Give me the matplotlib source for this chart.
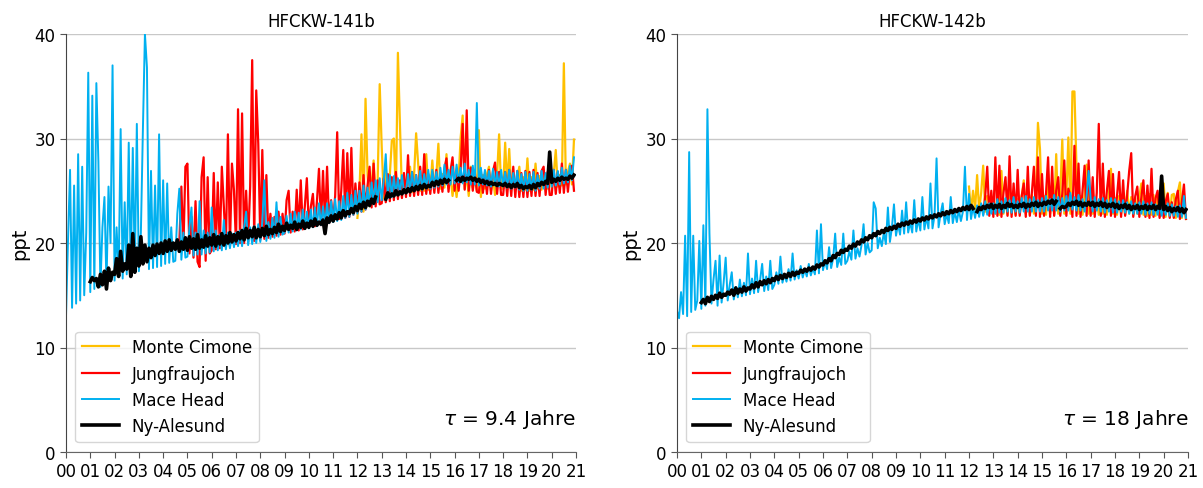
import numpy as np
import matplotlib.pyplot as plt

# Jahres-Ticks 2000..2021
tick_years = list(range(2000, 2022))
tick_labels = [f"{y % 100:02d}" for y in tick_years]

stations = ["Monte Cimone", "Jungfraujoch", "Mace Head", "Ny-Alesund"]
colors = ["#FFC000", "#FF0000", "#00B0F0", "#000000"]

# ---------------- HFCKW-141b (monatliche Werte, ppt) ----------------
mc_141b_start = 2012.0
mc_141b = [
    22.4, 25.0, 30.4, 23.0, 33.8, 26.6, 23.5, 25.5, 27.9, 24.0, 26.0, 35.2,
    29.2, 24.3, 27.3, 24.5, 26.5, 29.8, 30.0, 24.6, 38.2, 31.4, 24.7, 26.0,
    24.8, 26.2, 27.3, 24.9, 26.5, 30.5, 27.6, 25.0, 26.4, 25.0, 28.5, 25.1,
    25.1, 27.9, 25.2, 26.5, 29.5, 25.2, 26.6, 25.3, 28.5, 25.2, 26.4, 24.5,
    26.0, 24.4, 26.2, 30.1, 32.2, 25.2, 26.5, 24.5, 27.3, 25.3, 26.4, 25.0,
    30.8, 24.4, 26.5, 25.2, 26.6, 27.3, 25.0, 26.2, 24.6, 26.5, 30.4, 25.2,
    25.2, 29.6, 25.3, 29.0, 25.2, 26.4, 25.1, 26.2, 27.3, 25.0, 26.3, 25.1,
    28.1, 25.0, 26.3, 25.1, 27.6, 25.2, 26.4, 25.1, 26.2, 26.6, 25.2, 26.5,
    25.3, 26.6, 28.9, 25.4, 26.5, 25.5, 37.2, 25.6, 26.8, 27.6, 25.6, 29.9,
]

jf_141b_start = 2004 + 8 / 12
jf_141b = [
    20.0, 25.4, 19.5, 27.3,
    27.6, 19.0, 22.5, 18.6, 24.0, 18.2, 17.7, 26.3, 28.2, 18.3, 26.3, 19.0,
    19.3, 26.7, 19.4, 25.8, 19.5, 27.3, 23.4, 19.6, 30.4, 19.7, 27.6, 25.0,
    19.9, 32.8, 20.0, 32.4, 20.0, 25.0, 20.1, 25.4, 37.5, 20.2, 34.6, 29.5,
    20.3, 28.9, 20.4, 26.5, 20.5, 22.8, 20.6, 22.5, 20.7, 23.0, 20.8, 22.8,
    20.9, 24.1, 25.0, 21.0, 23.0, 21.1, 25.1, 21.2, 26.0, 21.3, 23.5, 26.2,
    21.5, 23.5, 24.7, 21.6, 24.0, 27.1, 21.7, 26.9, 21.8, 27.3, 21.9, 24.1,
    22.2, 24.5, 30.6, 22.3, 25.0, 28.9, 22.4, 28.6, 22.5, 29.1, 22.7, 25.7,
    22.9, 25.8, 23.0, 26.5, 23.2, 25.5, 27.3, 23.4, 27.6, 23.5, 26.0, 23.7,
    23.8, 26.2, 23.9, 26.6, 24.0, 26.3, 24.1, 26.8, 24.2, 26.0, 24.3, 26.7,
    24.4, 28.4, 24.5, 26.8, 24.5, 26.5, 24.6, 27.3, 24.6, 28.5, 24.7, 26.6,
    24.7, 26.8, 24.8, 27.0, 24.8, 26.6, 24.9, 27.1, 28.1, 24.9, 26.9, 28.2,
    25.0, 26.9, 25.0, 27.0, 31.4, 25.1, 32.7, 25.0, 27.2, 25.0, 26.8, 24.9,
    24.8, 26.8, 24.8, 26.6, 24.7, 27.0, 24.7, 26.9, 27.7, 24.7, 26.8, 24.6,
    24.6, 26.8, 24.5, 27.0, 24.5, 27.3, 24.4, 26.9, 24.4, 26.7, 24.4, 26.9,
    24.4, 26.8, 24.5, 27.0, 24.5, 26.7, 24.5, 26.9, 27.3, 24.6, 26.8, 24.6,
    24.6, 27.0, 24.7, 26.8, 24.8, 27.6, 24.8, 27.0, 24.9, 26.9, 27.4, 25.0,
]

mh_141b_start = 2000.0
mh_141b = [
    13.0, 20.3, 27.0, 13.8, 25.5, 14.2, 28.5, 14.5, 27.3, 15.0, 21.0, 36.3,
    15.3, 34.1, 15.6, 35.3, 27.8, 15.8, 21.5, 24.4, 16.0, 25.4, 20.0, 37.0,
    16.4, 21.5, 16.8, 30.9, 16.6, 23.9, 17.0, 29.6, 17.1, 29.1, 17.2, 31.4,
    17.3, 21.0, 30.9, 40.0, 36.8, 17.5, 26.9, 17.6, 25.5, 17.7, 30.4, 17.8,
    26.0, 18.0, 25.7, 18.1, 21.5, 18.2, 18.3, 22.8, 25.2, 18.4, 21.0, 18.6,
    18.7, 21.5, 23.4, 18.8, 21.0, 18.9, 24.0, 18.9, 21.2, 19.0, 21.0, 19.1,
    23.4, 19.2, 21.2, 19.3, 20.8, 19.3, 22.2, 19.4, 21.0, 19.5, 20.9, 19.6,
    21.0, 19.7, 21.2, 19.7, 21.5, 23.0, 19.8, 21.5, 19.9, 21.6, 20.0, 21.8,
    20.1, 22.0, 26.0, 20.2, 22.0, 20.4, 22.4, 20.5, 23.9, 20.6, 22.5, 20.8,
    21.0, 22.6, 21.0, 22.8, 21.1, 23.0, 21.2, 22.9, 21.3, 23.2, 21.4, 23.0,
    21.4, 23.2, 21.5, 23.4, 21.6, 23.8, 21.7, 23.5, 21.8, 23.8, 21.9, 24.0,
    22.0, 24.2, 22.1, 24.0, 22.2, 24.5, 22.4, 24.8, 22.5, 24.6, 22.7, 25.0,
    22.8, 25.0, 23.0, 25.5, 23.2, 25.3, 23.5, 25.8, 23.7, 26.0, 23.9, 26.2,
    24.1, 26.0, 28.5, 24.3, 26.5, 24.4, 26.4, 24.6, 26.2, 24.7, 26.5, 24.8,
    24.9, 26.6, 25.0, 26.8, 25.0, 26.5, 25.1, 26.9, 25.1, 26.6, 25.2, 27.0,
    25.2, 27.0, 25.3, 26.8, 25.4, 27.2, 25.5, 27.5, 25.6, 27.0, 25.6, 27.3,
    25.7, 27.5, 25.8, 27.2, 25.7, 27.6, 25.8, 27.0, 25.6, 27.4, 25.6, 33.4,
    25.5, 27.2, 25.6, 27.0, 25.5, 26.9, 25.4, 27.1, 25.5, 26.8, 25.4, 27.0,
    25.4, 26.8, 25.3, 27.0, 25.2, 26.7, 25.3, 26.9, 25.1, 26.6, 25.0, 26.8,
    25.0, 26.6, 25.1, 26.8, 25.0, 26.5, 25.2, 26.9, 25.2, 26.7, 25.3, 27.0,
    25.4, 27.0, 25.5, 26.9, 25.6, 27.2, 25.7, 27.0, 25.8, 27.4, 26.0, 28.2,
]

na_141b_start = 2001.0
na_141b = [
    16.3, 16.7, 16.4, 16.6, 15.8, 17.0, 16.0, 17.3, 15.6, 17.6, 16.4, 17.2,
    17.0, 18.5, 16.8, 19.2, 17.3, 18.0, 17.5, 19.8, 16.8, 20.9, 17.2, 19.5,
    17.8, 20.6, 18.0, 19.8, 18.2, 19.5, 18.6, 19.8, 18.8, 19.9, 19.0, 20.0,
    19.0, 20.2, 19.2, 20.3, 19.3, 20.0, 19.4, 20.3, 19.2, 20.1, 19.4, 20.5,
    19.3, 20.6, 19.5, 20.4, 19.4, 20.8, 19.5, 20.3, 19.6, 20.7, 19.7, 20.5,
    19.8, 20.8, 19.7, 20.6, 19.9, 20.9, 19.8, 20.7, 20.0, 21.0, 20.1, 20.8,
    20.2, 21.0, 20.4, 21.2, 20.3, 21.4, 20.5, 21.2, 20.6, 21.5, 20.5, 21.3,
    20.6, 21.4, 20.7, 21.6, 20.8, 21.3, 20.9, 21.5, 21.0, 21.8, 21.1, 21.6,
    21.2, 21.9, 21.3, 21.7, 21.4, 22.0, 21.3, 21.8, 21.5, 22.1, 21.4, 21.9,
    21.5, 22.1, 21.6, 22.3, 21.7, 22.0, 21.8, 22.2, 20.9, 22.4, 22.0, 22.6,
    22.1, 22.7, 22.3, 22.9, 22.4, 23.1, 22.6, 23.0, 22.8, 23.3, 22.9, 23.5,
    23.1, 23.7, 23.3, 23.9, 23.4, 24.0, 23.6, 24.2, 23.8, 24.4, np.nan, np.nan,
    np.nan, np.nan, 24.2, 24.8, 24.4, 24.7, 24.5, 25.0, 24.6, 24.9, 24.7, 25.1,
    24.8, 25.2, 24.9, 25.3, 25.0, 25.4, 25.1, 25.5, 25.2, 25.6, 25.3, 25.5,
    25.4, 25.8, 25.5, 25.9, 25.6, 26.0, 25.7, 26.1, 25.8, 26.0, np.nan, np.nan,
    np.nan, 26.0, 26.2, 25.9, 26.3, 26.0, 26.2, 26.1, 26.3, 26.0, 26.2, 25.9,
    26.1, 25.8, 26.0, 25.7, 25.9, 25.6, 25.8, 25.6, 25.7, 25.5, 25.7, 25.6,
    25.5, 25.7, 25.4, 25.6, 25.3, 25.6, 25.4, 25.7, 25.3, 25.5, 25.2, 25.4,
    25.3, 25.5, 25.2, 25.6, 25.3, 25.7, 25.5, 25.8, 25.6, 25.9, 25.7, 28.7,
    25.8, 26.1, 25.9, 26.2, 26.0, 26.3, 26.1, 26.2, 26.1, 26.4, 26.2, 26.5,
]

# ---------------- HFCKW-142b (monatliche Werte, ppt) ----------------
mc_142b_start = 2012.0
mc_142b = [
    25.4, 23.0, 25.0, 23.2, 26.5, 23.1, 24.8, 27.4, 23.0, 24.5, 24.4, 23.0,
    24.0, 22.8, 24.5, 22.7, 26.9, 22.8, 24.2, 22.7, 25.7, 22.8, 24.0, 22.7,
    24.2, 22.8, 24.5, 26.0, 22.8, 24.3, 22.7, 24.6, 22.8, 24.4, 31.5, 29.0,
    22.8, 24.5, 22.7, 26.6, 22.8, 24.8, 22.7, 28.5, 22.8, 24.6, 29.9, 22.8,
    24.5, 30.1, 22.8, 34.5, 34.5, 27.3, 22.8, 24.5, 22.7, 24.6, 27.5, 22.8,
    24.4, 22.8, 24.2, 24.0, 22.7, 24.5, 22.8, 24.3, 22.7, 24.6, 27.1, 22.8,
    24.3, 22.7, 24.5, 22.8, 24.2, 22.7, 25.0, 22.8, 24.4, 22.7, 24.3, 22.8,
    24.4, 25.7, 22.7, 24.5, 22.6, 24.7, 22.7, 24.6, 22.6, 24.8, 22.6, 24.9,
    25.7, 22.5, 24.8, 22.5, 24.6, 24.7, 22.4, 24.9, 25.8, 22.4, 24.4, 22.3,
]

jf_142b_start = 2012 + 7 / 12
jf_142b = [
    22.8, 24.5, 27.3, 22.6, 25.0,
    22.5, 28.2, 22.6, 27.4, 22.5, 24.8, 26.3, 22.6, 28.3, 22.5, 25.7, 22.6,
    27.0, 22.6, 24.5, 25.7, 22.5, 27.3, 22.6, 24.8, 27.3, 22.6, 28.2, 22.5,
    26.6, 22.6, 24.8, 28.2, 22.5, 27.3, 22.6, 25.0, 26.3, 22.6, 24.7, 27.9,
    22.6, 25.2, 24.5, 22.5, 29.3, 22.6, 27.6, 22.5, 25.0, 27.4, 22.6, 27.9,
    22.6, 26.3, 22.5, 24.8, 31.4, 22.6, 27.6, 22.5, 25.0, 26.9, 22.6, 26.6,
    22.5, 24.5, 26.8, 22.5, 26.0, 22.6, 24.6, 26.9, 28.6, 22.5, 24.5, 25.4,
    22.5, 24.4, 26.0, 22.5, 25.5, 22.4, 27.1, 22.5, 24.3, 25.0, 22.4, 24.2,
    22.4, 24.0, 24.7, 22.4, 23.9, 22.4, 24.2, 25.0, 22.3, 24.0, 25.6, 22.3,
]

mh_142b_start = 2000.0
mh_142b = [
    13.5, 12.8, 15.3, 13.2, 20.7, 13.0, 28.7, 13.4, 20.7, 13.6, 14.5, 20.2,
    13.7, 21.7, 14.0, 32.8, 20.9, 14.2, 16.5, 18.3, 14.0, 18.8, 14.3, 16.2,
    18.6, 14.5, 16.0, 17.2, 14.6, 15.8, 14.8, 16.5, 14.9, 16.2, 15.0, 19.0,
    15.1, 16.6, 15.2, 18.3, 15.3, 16.5, 18.0, 15.4, 16.8, 15.5, 18.3, 15.6,
    16.0, 17.2, 16.1, 18.7, 16.2, 17.0, 16.3, 17.5, 16.4, 19.0, 16.5, 17.4,
    16.6, 17.8, 16.7, 17.5, 16.8, 18.0, 16.9, 17.6, 17.0, 21.2, 17.1, 21.8,
    17.4, 18.3, 17.5, 19.6, 17.6, 18.5, 20.9, 17.7, 18.6, 17.9, 20.9, 18.0,
    18.3, 19.2, 18.4, 21.2, 18.5, 19.5, 18.7, 19.8, 21.8, 18.9, 20.0, 19.1,
    19.3, 23.9, 23.3, 19.5, 20.5, 19.7, 21.0, 19.9, 23.4, 20.1, 21.5, 23.7,
    20.7, 21.8, 20.8, 23.1, 20.9, 23.9, 21.0, 22.0, 21.0, 24.1, 21.1, 22.3,
    21.2, 24.4, 21.3, 22.5, 21.4, 25.7, 21.4, 22.6, 28.1, 21.5, 22.8, 23.8,
    21.8, 22.8, 21.9, 24.4, 21.9, 23.0, 22.0, 23.2, 22.1, 23.0, 27.3, 22.2,
    24.7, 22.3, 23.5, 22.4, 23.6, 22.5, 23.8, 22.6, 24.0, 22.7, 23.8, 22.8,
    23.8, 22.8, 24.2, 22.9, 24.0, 22.9, 24.3, 23.0, 24.1, 22.9, 24.4, 23.0,
    24.0, 22.9, 24.3, 23.0, 24.5, 23.0, 24.2, 23.0, 24.4, 23.0, 24.1, 23.0,
    24.3, 23.0, 24.5, 23.1, 24.2, 23.1, 24.6, 23.1, 24.4, 23.0, 24.3, 23.1,
    24.5, 23.1, 24.8, 23.2, 24.4, 23.1, 24.6, 23.1, 24.2, 23.0, 24.5, 26.9,
    24.2, 23.0, 24.4, 23.1, 24.2, 23.0, 24.3, 22.9, 24.1, 23.0, 24.3, 22.9,
    24.2, 22.9, 24.0, 23.0, 24.1, 22.9, 23.9, 22.8, 24.0, 22.8, 23.8, 22.8,
    23.9, 22.8, 24.0, 22.7, 23.8, 22.8, 23.9, 22.7, 23.7, 22.7, 23.8, 22.6,
    23.6, 22.7, 23.8, 22.6, 23.7, 22.6, 23.5, 22.5, 23.6, 22.5, 24.5, 22.4,
]

na_142b_start = 2001.0
na_142b = [
    14.3, 14.6, 14.2, 14.8, 14.4, 14.9, 14.6, 15.0, 14.7, 15.2, 14.8, 15.1,
    15.0, 15.3, 15.1, 15.5, 15.0, 15.7, 15.2, 15.6, 15.3, 15.8, 15.4, 15.7,
    15.6, 16.0, 15.7, 16.2, 15.8, 16.3, 16.0, 16.4, 16.1, 16.5, 16.2, 16.6,
    16.4, 16.8, 16.5, 16.9, 16.6, 17.0, 16.7, 17.1, 16.8, 17.2, 16.9, 17.2,
    17.1, 17.4, 17.2, 17.5, 17.3, 17.6, 17.4, 17.7, 17.5, 17.9, 17.7, 18.0,
    17.9, 18.3, 18.1, 18.5, 18.3, 18.8, 18.6, 19.0, 18.9, 19.3, 19.1, 19.4,
    19.3, 19.7, 19.5, 19.9, 19.7, 20.1, 19.9, 20.3, 20.1, 20.5, 20.3, 20.7,
    20.5, 20.9, 20.7, 21.1, 20.9, 21.2, 21.0, 21.4, 21.2, 21.5, 21.3, 21.6,
    21.4, 21.8, 21.6, 21.9, 21.7, 22.0, 21.8, 22.1, 21.9, 22.2, 22.0, 22.3,
    22.1, 22.4, 22.2, 22.5, 22.3, 22.6, 22.4, 22.7, 22.5, 22.8, 22.6, 22.9,
    22.7, 23.0, 22.8, 23.1, 22.9, 23.2, 23.0, 23.3, 23.1, 23.4, 23.2, 23.5,
    23.2, 23.6, 23.3, np.nan, 23.0, 23.4, 23.2, 23.5, 23.3, 23.6, 23.4, 23.7,
    23.3, 23.6, 23.4, 23.7, 23.3, 23.6, 23.4, 23.8, 23.5, 23.7, 23.4, 23.6,
    23.4, 23.7, 23.5, 23.8, 23.4, 23.7, 23.5, 23.8, 23.6, 23.9, 23.5, 23.8,
    23.6, 23.9, 23.7, 24.0, 23.8, 24.1, 23.7, 24.0, np.nan, 23.3, 23.5, 23.4,
    23.5, 23.8, 23.6, 23.9, 23.7, 24.0, 23.6, 23.9, 23.5, 23.8, 23.6, 23.9,
    23.6, 23.9, 23.5, 23.8, 23.6, 23.9, 23.5, 23.8, 23.4, 23.7, 23.5, 23.8,
    23.4, 23.7, 23.3, 23.6, 23.4, 23.7, 23.3, 23.6, 23.2, 23.5, 23.3, 23.6,
    23.2, 23.5, 23.3, 23.6, 23.2, 23.5, 23.3, 23.6, 23.2, 23.5, 23.3, 26.4,
    23.2, 23.5, 23.1, 23.4, 23.0, 23.3, 23.1, 23.4, 23.0, 23.3, 22.9, 23.2,
]

panels = [
    ("HFCKW-141b", r"$\tau$ = 9.4 Jahre",
     [(mc_141b_start, mc_141b), (jf_141b_start, jf_141b),
      (mh_141b_start, mh_141b), (na_141b_start, na_141b)]),
    ("HFCKW-142b", r"$\tau$ = 18 Jahre",
     [(mc_142b_start, mc_142b), (jf_142b_start, jf_142b),
      (mh_142b_start, mh_142b), (na_142b_start, na_142b)]),
]
widths = [1.6, 1.6, 1.4, 2.6]

fig = plt.figure(figsize=(12.03, 4.89), dpi=100)
rects = [[66 / 1203, 36 / 489, 510 / 1203, 418 / 489],
         [677 / 1203, 36 / 489, 511 / 1203, 418 / 489]]

for rect, (title, tau, series) in zip(rects, panels):
    ax = fig.add_axes(rect)
    for name, col, lw, (start, vals) in zip(stations, colors, widths, series):
        t = start + np.arange(len(vals)) / 12.0
        ax.plot(t, vals, color=col, lw=lw, label=name)

    ax.set_xlim(2000, 2021)
    ax.set_ylim(0, 40)
    ax.set_xticks(tick_years)
    ax.set_xticklabels(tick_labels)
    ax.set_yticks([0, 10, 20, 30, 40])
    ax.tick_params(labelsize=12, length=4, color="#555555")
    ax.grid(axis="y", color="#c8c8c8", lw=1)
    ax.set_axisbelow(True)
    for s in ["top", "right"]:
        ax.spines[s].set_visible(False)
    ax.spines["left"].set_color("#444444")
    ax.spines["bottom"].set_color("#666666")

    ax.set_title(title, fontsize=12)
    ax.set_ylabel("ppt", fontsize=14)
    ax.text(1.0, 0.08, tau, transform=ax.transAxes, ha="right", va="center",
            fontsize=14.5)
    leg = ax.legend(loc="lower left", bbox_to_anchor=(0.018, 0.024),
                    borderaxespad=0, fontsize=12, handlelength=2.2,
                    edgecolor="#cccccc")

plt.savefig("out.png", dpi=100)
print("saved out.png")
